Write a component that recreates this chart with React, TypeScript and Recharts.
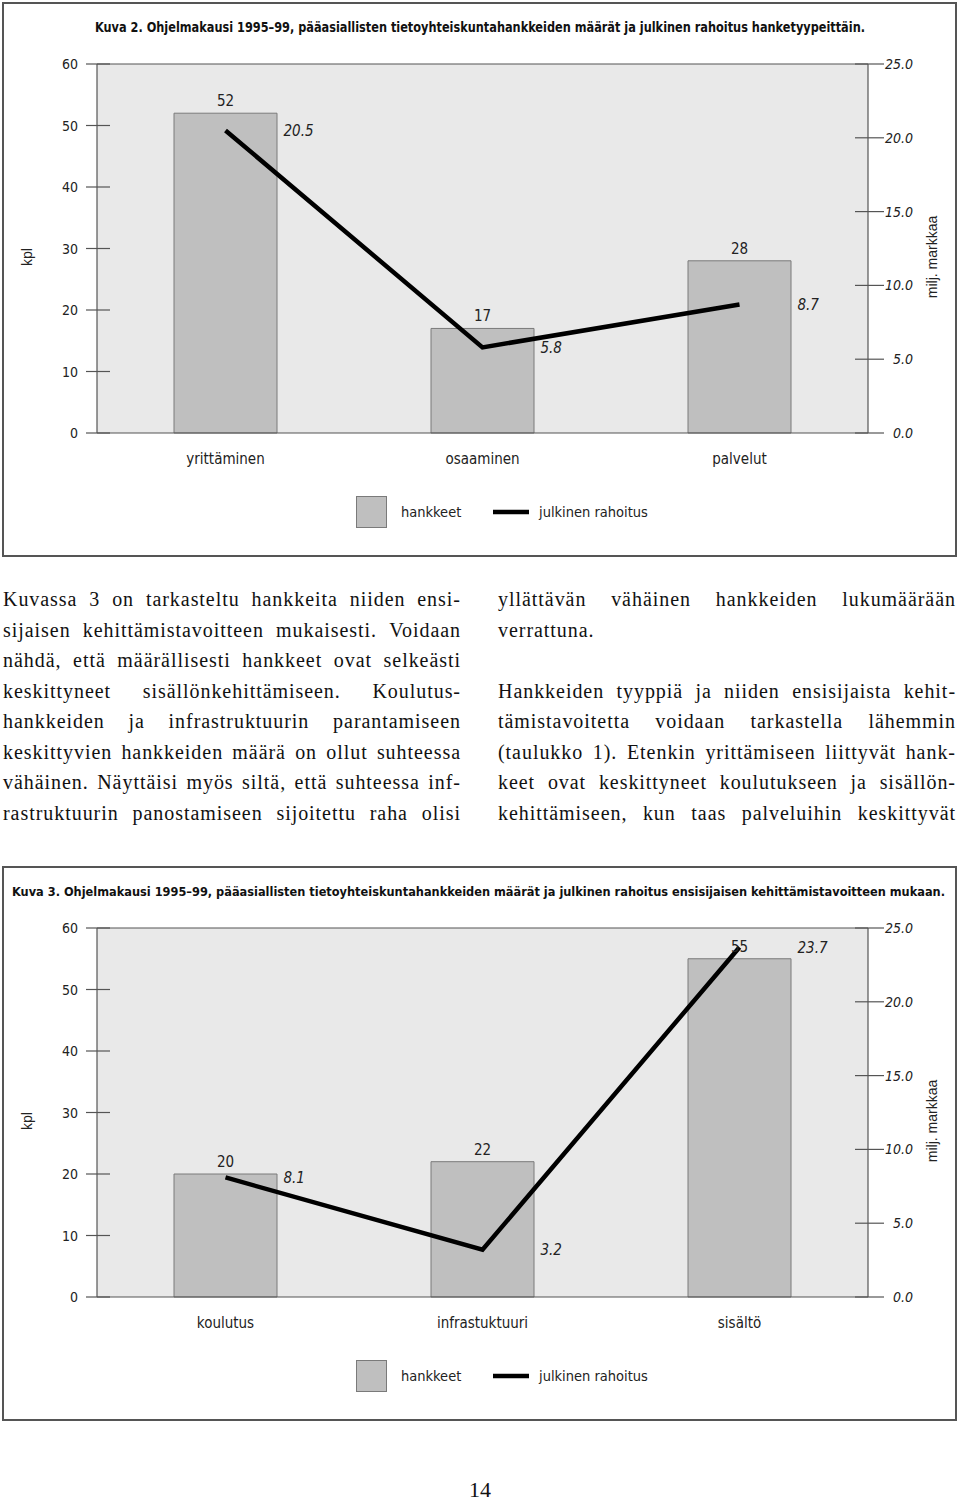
import React from 'react';
import {
  ComposedChart,
  Bar,
  Line,
  XAxis,
  YAxis,
  CartesianGrid,
  LabelList,
  ReferenceLine,
} from 'recharts';

// Kuva 2: hanketyypit
const typeCategories = ['yrittäminen', 'osaaminen', 'palvelut'];
const typeProjects = [52, 17, 28];
const typeFunding = [20.5, 5.8, 8.7];

// Kuva 3: ensisijainen kehittämistavoite
const goalCategories = ['koulutus', 'infrastuktuuri', 'sisältö'];
const goalProjects = [20, 22, 55];
const goalFunding = [8.1, 3.2, 23.7];

const countTicks = [0, 10, 20, 30, 40, 50, 60];
const fundingTicks = [0, 5, 10, 15, 20, 25];

// body text, one entry per printed line; '' = empty line
const leftColumn = [
  'Kuvassa 3 on tarkasteltu hankkeita niiden ensi-',
  'sijaisen kehittämistavoitteen mukaisesti. Voidaan',
  'nähdä, että määrällisesti hankkeet ovat selkeästi',
  'keskittyneet sisällönkehittämiseen. Koulutus-',
  'hankkeiden ja infrastruktuurin parantamiseen',
  'keskittyvien hankkeiden määrä on ollut suhteessa',
  'vähäinen. Näyttäisi myös siltä, että suhteessa inf-',
  'rastruktuurin panostamiseen sijoitettu raha olisi',
];
const rightColumn = [
  'yllättävän vähäinen hankkeiden lukumäärään',
  'verrattuna.',
  '',
  'Hankkeiden tyyppiä ja niiden ensisijaista kehit-',
  'tämistavoitetta voidaan tarkastella lähemmin',
  '(taulukko 1). Etenkin yrittämiseen liittyvät hank-',
  'keet ovat keskittyneet koulutukseen ja sisällön-',
  'kehittämiseen, kun taas palveluihin keskittyvät',
];

const NARROW = "'Liberation Sans Narrow', 'DejaVu Sans Condensed', 'Liberation Sans', sans-serif";
const SANS = "'Liberation Sans', Arial, sans-serif";
const SERIF = "'Liberation Serif', 'Times New Roman', serif";
const AXIS = '#555';

function LeftTick({ x, y, payload }: any) {
  return (
    <g>
      <line x1={x - 11} x2={x + 13} y1={y} y2={y} stroke={AXIS} strokeWidth={1.2} />
      <text x={x - 19} y={y + 5} textAnchor="end" fontSize={14} fill="#222" fontFamily={NARROW}>
        {payload.value}
      </text>
    </g>
  );
}

function RightTick({ x, y, payload }: any) {
  return (
    <g>
      <line x1={x - 13} x2={x + 16} y1={y} y2={y} stroke={AXIS} strokeWidth={1.2} />
      <text
        x={x + 45}
        y={y + 5}
        textAnchor="end"
        fontSize={14}
        fontStyle="italic"
        fill="#222"
        fontFamily={NARROW}
      >
        {Number(payload.value).toFixed(1)}
      </text>
    </g>
  );
}

interface PanelProps {
  top: number;
  title: string;
  titleX: number;
  titleWidth: number;
  titleSize: number;
  categories: string[];
  projects: number[];
  funding: number[];
}

function ChartPanel({ top, title, titleX, titleWidth, titleSize, categories, projects, funding }: PanelProps) {
  const data = categories.map((name, i) => ({
    name,
    hankkeet: projects[i],
    rahoitus: funding[i],
  }));

  return (
    <div style={{ position: 'absolute', left: 0, top, width: 960, height: 560 }}>
      <div
        style={{
          position: 'absolute',
          left: 2,
          top: 2,
          width: 955,
          height: 555,
          boxSizing: 'border-box',
          border: '2px solid #555',
        }}
      />
      <div style={{ position: 'absolute', left: 0, top: 0 }}>
        <ComposedChart
          width={960}
          height={560}
          data={data}
          margin={{ top: 64, right: 32, bottom: 97, left: 37 }}
        >
          <CartesianGrid fill="#e9e9e9" stroke="none" horizontal={false} vertical={false} />
          <XAxis
            dataKey="name"
            height={30}
            tickLine={false}
            tickSize={0}
            tickMargin={20}
            axisLine={{ stroke: AXIS, strokeWidth: 1.2 }}
            tick={{ fontSize: 15, fill: '#222', fontFamily: NARROW }}
          />
          <YAxis
            yAxisId="left"
            orientation="left"
            width={60}
            domain={[0, 60]}
            ticks={countTicks}
            tickLine={false}
            tickSize={0}
            tickMargin={0}
            axisLine={{ stroke: AXIS, strokeWidth: 1.2 }}
            tick={<LeftTick />}
          />
          <YAxis
            yAxisId="right"
            orientation="right"
            width={60}
            domain={[0, 25]}
            ticks={fundingTicks}
            tickLine={false}
            tickSize={0}
            tickMargin={0}
            axisLine={{ stroke: AXIS, strokeWidth: 1.2 }}
            tick={<RightTick />}
          />
          <ReferenceLine yAxisId="left" y={60} stroke={AXIS} strokeWidth={1.2} />
          <Bar
            yAxisId="left"
            dataKey="hankkeet"
            barSize={103}
            fill="#bfbfbf"
            stroke="#7a7a7a"
            strokeWidth={1}
            isAnimationActive={false}
          >
            <LabelList
              dataKey="hankkeet"
              position="top"
              offset={7}
              fontSize={15}
              fill="#222"
              fontFamily={NARROW}
            />
          </Bar>
          <Line
            yAxisId="right"
            dataKey="rahoitus"
            type="linear"
            stroke="#000"
            strokeWidth={4.5}
            strokeLinejoin="miter"
            dot={false}
            activeDot={false}
            isAnimationActive={false}
          >
            <LabelList
              dataKey="rahoitus"
              position="right"
              offset={58}
              fontSize={15}
              fontStyle="italic"
              fill="#222"
              fontFamily={NARROW}
              formatter={(v: any) => Number(v).toFixed(1)}
            />
          </Line>
        </ComposedChart>
      </div>
      <svg
        width={960}
        height={560}
        style={{ position: 'absolute', left: 0, top: 0, pointerEvents: 'none' }}
      >
        <text
          x={titleX}
          y={32}
          fontSize={titleSize}
          fontWeight="bold"
          fontFamily={NARROW}
          fill="#111"
          textLength={titleWidth}
          lengthAdjust="spacingAndGlyphs"
        >
          {title}
        </text>
        <text
          x={0}
          y={0}
          transform="translate(32 257) rotate(-90)"
          textAnchor="middle"
          fontSize={14}
          fontFamily={SANS}
          fill="#222"
        >
          kpl
        </text>
        <text
          x={0}
          y={0}
          transform="translate(937 257) rotate(-90)"
          textAnchor="middle"
          fontSize={14}
          fontFamily={SANS}
          fill="#222"
        >
          milj. markkaa
        </text>
        {/* legend */}
        <rect x={356.5} y={496.5} width={30} height={31} fill="#bfbfbf" stroke="#7a7a7a" />
        <text x={401} y={517} fontSize={14.5} fontFamily={NARROW} fill="#222">
          hankkeet
        </text>
        <line x1={493} x2={529} y1={512} y2={512} stroke="#000" strokeWidth={4.5} />
        <text x={539} y={517} fontSize={14.5} fontFamily={NARROW} fill="#222">
          julkinen rahoitus
        </text>
      </svg>
    </div>
  );
}

function TextColumn({ left, lines }: { left: number; lines: string[] }) {
  return (
    <div
      style={{
        position: 'absolute',
        left,
        top: 584,
        width: 458,
        fontFamily: SERIF,
        fontSize: 20,
        letterSpacing: '0.95px',
        lineHeight: '30.5px',
        color: '#111',
      }}
    >
      {lines.map((line, i) => {
        // last line of a paragraph is set ragged, the others justified
        const paragraphEnd = i === 1 && lines === rightColumn;
        const words = line.split(' ');
        return (
          <div
            key={i}
            style={{
              height: 30.5,
              display: 'flex',
              whiteSpace: 'nowrap',
              justifyContent: paragraphEnd ? 'flex-start' : 'space-between',
              gap: paragraphEnd ? 5 : 0,
            }}
          >
            {line === '' ? '\u00a0' : words.map((w, j) => <span key={j}>{w}</span>)}
          </div>
        );
      })}
    </div>
  );
}

export default function App() {
  return (
    <div
      style={{
        position: 'absolute',
        left: 0,
        top: 0,
        width: 960,
        height: 1503,
        background: '#fff',
        overflow: 'hidden',
      }}
    >
      <ChartPanel
        top={0}
        title="Kuva 2. Ohjelmakausi 1995–99, pääasiallisten tietoyhteiskuntahankkeiden määrät ja julkinen rahoitus hanketyypeittäin."
        titleX={95}
        titleWidth={770}
        titleSize={13.5}
        categories={typeCategories}
        projects={typeProjects}
        funding={typeFunding}
      />
      <TextColumn left={3} lines={leftColumn} />
      <TextColumn left={498} lines={rightColumn} />
      <ChartPanel
        top={864}
        title="Kuva 3. Ohjelmakausi 1995–99, pääasiallisten tietoyhteiskuntahankkeiden määrät ja julkinen rahoitus ensisijaisen kehittämistavoitteen mukaan."
        titleX={12}
        titleWidth={933}
        titleSize={12.2}
        categories={goalCategories}
        projects={goalProjects}
        funding={goalFunding}
      />
      <div
        style={{
          position: 'absolute',
          left: 430,
          width: 100,
          top: 1477,
          textAlign: 'center',
          fontFamily: SERIF,
          fontSize: 22,
          lineHeight: '26px',
          color: '#111',
        }}
      >
        14
      </div>
    </div>
  );
}
